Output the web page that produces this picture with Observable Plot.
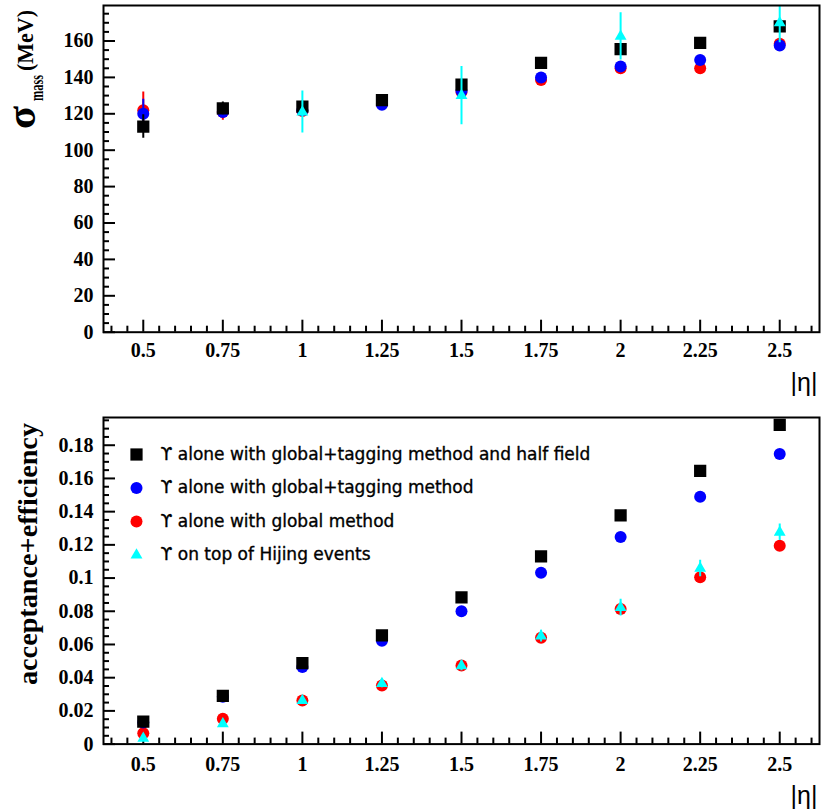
<!DOCTYPE html>
<html>
<head>
<meta charset="utf-8">
<script src="https://cdn.jsdelivr.net/npm/d3@7"></script>
<script src="https://cdn.jsdelivr.net/npm/@observablehq/plot@0.6"></script>
<style>
  html, body { margin: 0; padding: 0; background: #fff; }
  #chart { position: relative; width: 821px; height: 812px; background: #fff; }
  #chart svg { display: block; }
</style>
</head>
<body>
<div id="chart"></div>
<script>
// ---------------- data ----------------
const eta = [0.5, 0.75, 1, 1.25, 1.5, 1.75, 2, 2.25, 2.5];

const seriesNames = [
  "ϒ alone with global+tagging method and half field",
  "ϒ alone with global+tagging method",
  "ϒ alone with global method",
  "ϒ on top of Hijing events"
];
const seriesColors = ["#000000", "#0000ff", "#ff0000", "#00ffff"];
const seriesSymbols = ["square", "circle", "circle", "triangle"];

// top panel: mass resolution sigma (MeV)
const sigmaHalfField    = [113, 123, 124, 127.5, 136, 148, 155.5, 159, 168];
const sigmaHalfFieldErr = [6.5, 3.5, 3, 2.5, 3, 2.5, 3, 2.5, 3];
const sigmaGlobalTag    = [120, 121, 122, 125, 132.5, 140, 146, 149.5, 157.5];
const sigmaGlobalTagErr = [8, 3, 3, 2.5, 3, 2.5, 2.5, 2.5, 3];
const sigmaGlobal       = [122, 121, 121.5, 125.5, 132, 138.5, 145, 145, 158.5];
const sigmaGlobalErr    = [10, 4.5, 3, 2.5, 3, 2.5, 2.5, 2.5, 3];
const sigmaHijing       = [null, null, 121, null, 130, null, 162.5, null, 170];
const sigmaHijingErr    = [null, null, 11.5, null, 16, null, 13, null, 11];

// bottom panel: acceptance x efficiency
const accHalfField    = [0.0135, 0.029, 0.0487, 0.0655, 0.0883, 0.113, 0.1377, 0.1645, 0.1923];
const accHalfFieldErr = [0.001, 0.001, 0.001, 0.001, 0.001, 0.001, 0.001, 0.001, 0.001];
const accGlobalTag    = [0.013, 0.0285, 0.0465, 0.0622, 0.080, 0.1032, 0.1247, 0.149, 0.1747];
const accGlobalTagErr = [0.001, 0.001, 0.001, 0.001, 0.001, 0.001, 0.001, 0.001, 0.001];
const accGlobal       = [0.0066, 0.0152, 0.0263, 0.0353, 0.0473, 0.064, 0.0813, 0.1005, 0.1195];
const accGlobalErr    = [0.001, 0.001, 0.001, 0.001, 0.001, 0.001, 0.001, 0.001, 0.001];
const accHijing       = [0.0035, 0.0122, 0.0262, 0.0365, 0.0472, 0.065, 0.0822, 0.1058, 0.1276];
const accHijingErr    = [0.001, 0.0015, 0.002, 0.0025, 0.003, 0.0035, 0.005, 0.005, 0.005];

// tick labels
const xTicks = [0.5, 0.75, 1, 1.25, 1.5, 1.75, 2, 2.25, 2.5];
const sigmaTicks = [0, 20, 40, 60, 80, 100, 120, 140, 160];
const accTicks = [0, 0.02, 0.04, 0.06, 0.08, 0.1, 0.12, 0.14, 0.16, 0.18];
const xTitle = "|η|";
const sigmaTitle = ["σ", "mass", "(MeV)"];
const accTitle = "acceptance+efficiency";

// ---------------- helpers ----------------
const W = 821;
const serif = "'Liberation Serif', 'Times New Roman', serif";
const drawOrder = [2, 1, 0, 3];
const radius = {square: 6.9, circle: 6, triangle: 4.4};

function rows(values, errs) {
  return eta.map((x, i) => ({x, v: values[i], e: errs[i]})).filter(d => d.v != null);
}
function fmt(d) { return String(+d.toFixed(3)); }

function panel({height, marginTop, marginBottom, yDomain, yTicks, yMinorStep, series, legend, labelDy, labelPad}) {
  const marginLeft = 103, marginRight = 2;
  const innerW = W - marginLeft - marginRight;
  const innerH = height - marginTop - marginBottom;
  const xMinor = d3.range(0.4, 2.6001, 0.05).map(v => +v.toFixed(2)).filter(v => !xTicks.some(t => Math.abs(t - v) < 1e-6));
  const yMinor = d3.range(0, yDomain[1], yMinorStep).map(v => +v.toFixed(4)).filter(v => !yTicks.some(t => Math.abs(t - v) < 1e-9));
  const marks = [];
  marks.push(Plot.tickX(xTicks, {x: d => d, insetTop: innerH - 12, stroke: "black", strokeWidth: 2}));
  marks.push(Plot.tickX(xMinor, {x: d => d, insetTop: innerH - 6, stroke: "black", strokeWidth: 2}));
  marks.push(Plot.tickY(yTicks, {y: d => d, insetRight: innerW - 12, stroke: "black", strokeWidth: 2}));
  marks.push(Plot.tickY(yMinor, {y: d => d, insetRight: innerW - 6, stroke: "black", strokeWidth: 2}));
  marks.push(Plot.axisX({ticks: xTicks, tickSize: 0, tickPadding: labelPad, tickFormat: fmt, label: null,
    fontSize: 20, fontWeight: "bold", fontFamily: serif, fill: "black"}));
  marks.push(Plot.axisY({ticks: yTicks, tickSize: 0, tickPadding: 10, tickFormat: fmt, label: null,
    fontSize: 20, fontWeight: "bold", fontFamily: serif, fill: "black"}));
  for (const k of drawOrder) {
    const s = series[k];
    if (!s) continue;
    marks.push(Plot.ruleX(s, {x: "x", y1: d => d.v - d.e, y2: d => d.v + d.e, stroke: seriesColors[k], strokeWidth: 2, clip: true}));
    marks.push(Plot.dot(s, {x: "x", y: "v", symbol: seriesSymbols[k], r: radius[seriesSymbols[k]], fill: seriesColors[k], stroke: "none", clip: true}));
  }
  if (legend) {
    seriesNames.forEach((name, i) => {
      const dy = 37 + i * 33.5;
      marks.push(Plot.dot([name], {frameAnchor: "top-left", dx: 33, dy, symbol: seriesSymbols[i], r: radius[seriesSymbols[i]], fill: seriesColors[i], stroke: "none"}));
      marks.push(Plot.text([name], {frameAnchor: "top-left", dx: 57, dy, text: d => d, textAnchor: "start", lineAnchor: "middle",
        fontSize: 17, fontFamily: "'DejaVu Sans', sans-serif", fill: "black", stroke: "black", strokeWidth: 0.35}));
    });
  }
  marks.push(Plot.frame({stroke: "black", strokeWidth: 2}));
  marks.push(Plot.text([xTitle], {frameAnchor: "bottom-right", dx: -2, dy: labelDy, text: d => d, textAnchor: "end", lineAnchor: "middle",
    fontSize: 25, fontFamily: "'Liberation Sans', Arial, sans-serif", fill: "black"}));

  return Plot.plot({
    width: W, height, marginTop, marginBottom, marginLeft, marginRight,
    x: {type: "linear", domain: [0.375, 2.625]},
    y: {type: "linear", domain: yDomain},
    style: {background: "white", overflow: "visible"},
    marks
  });
}

const chartEl = document.getElementById("chart");

const topSvg = panel({
  height: 400, marginTop: 5, marginBottom: 68.3,
  yDomain: [0, 179.5], yTicks: sigmaTicks, yMinorStep: 5,
  series: [
    rows(sigmaHalfField, sigmaHalfFieldErr),
    rows(sigmaGlobalTag, sigmaGlobalTagErr),
    rows(sigmaGlobal, sigmaGlobalErr),
    rows(sigmaHijing, sigmaHijingErr)
  ],
  legend: false, labelDy: 50.5, labelPad: 11
});
chartEl.appendChild(topSvg);

const bottomSvg = panel({
  height: 412, marginTop: 17, marginBottom: 68.4,
  yDomain: [0, 0.1967], yTicks: accTicks, yMinorStep: 0.005,
  series: [
    rows(accHalfField, accHalfFieldErr),
    rows(accGlobalTag, accGlobalTagErr),
    rows(accGlobal, accGlobalErr),
    rows(accHijing, accHijingErr)
  ],
  legend: true, labelDy: 51.5, labelPad: 12.5
});
chartEl.appendChild(bottomSvg);

function rotText(svg, str, x, y, size, len) {
  d3.select(svg).append("text")
    .attr("transform", `translate(${x},${y}) rotate(-90)`)
    .attr("text-anchor", "start")
    .attr("font-family", serif)
    .attr("font-weight", "bold")
    .attr("font-size", size)
    .attr("fill", "black")
    .attr("textLength", len)
    .attr("lengthAdjust", "spacingAndGlyphs")
    .text(str);
}
rotText(topSvg, sigmaTitle[0], 35, 129, 40, 23);
rotText(topSvg, sigmaTitle[1], 43, 101, 19, 26);
rotText(topSvg, sigmaTitle[2], 33, 71, 24, 61);
rotText(bottomSvg, accTitle, 37, 285, 28, 262);
</script>
</body>
</html>
